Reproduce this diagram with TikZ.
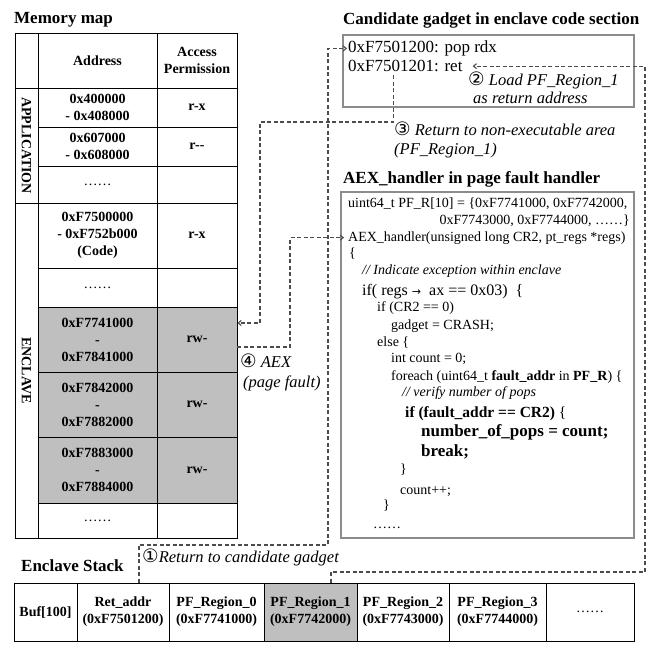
\documentclass[tikz,border=0pt]{standalone}
\usepackage{fontspec}
\usepackage{graphicx}
\setmainfont{Liberation Serif}
\newfontfamily\symf{DejaVu Sans}
\usetikzlibrary{arrows.meta}
\newcommand\cnum[1]{{\symf\upshape\fontsize{18.5}{18}\selectfont #1}}
\newcommand\mcell[7]{\node[cellbox, fill=#7, minimum width={#4-#2}, minimum height={#5-#3}] (#1) at ({(#2+#4)/2},{(#3+#5)/2}) {#6};}
\begin{document}
\begin{tikzpicture}[x=1pt,y=-1pt,
  cellbox/.style={draw=black, line width=0.8pt, inner sep=0pt, align=center, font=\fontsize{14}{17}\selectfont\bfseries},
  ttl/.style={anchor=base west, inner sep=0pt, font=\fontsize{17}{20}\selectfont\bfseries},
  codeln/.style={anchor=base west, inner sep=0pt, font=\fontsize{14}{16}\selectfont},
  cmt/.style={anchor=base west, inner sep=0pt, font=\fontsize{14}{16}\selectfont\itshape},
  big/.style={anchor=base west, inner sep=0pt, font=\fontsize{17}{20}\selectfont},
  lbl/.style={anchor=base west, inner sep=0pt, font=\fontsize{16.5}{20}\selectfont\itshape},
  frame/.style={draw=gray!90, line width=1.1pt, inner sep=0pt},
  conn/.style={draw=black!70, line width=1.1pt, dash pattern=on 4pt off 2.5pt},
  arr/.style={conn, -{Straight Barb[length=3pt,width=5pt]}},
]
\useasboundingbox (0,0) rectangle (660,656);

% ---------------- Memory map ----------------
\node[ttl] (mmt) at (14,23) {Memory map};
\mcell{h0}{15}{33}{38}{88}{}{white}
\mcell{h1}{38}{33}{157}{88}{Address}{white}
\mcell{h2}{157}{33}{237}{88}{Access\\Permission}{white}
\mcell{app}{15}{88}{38}{203}{\rotatebox{-90}{APPLICATION}}{white}
\mcell{a1}{38}{88}{157}{127}{0x400000\\- 0x408000}{white}
\mcell{p1}{157}{88}{237}{127}{r-x}{white}
\mcell{a2}{38}{127}{157}{166}{0x607000\\- 0x608000}{white}
\mcell{p2}{157}{127}{237}{166}{r-{}-}{white}
\mcell{a3}{38}{166}{157}{203}{\mdseries……}{white}
\mcell{p3}{157}{166}{237}{203}{}{white}
\mcell{enc}{15}{203}{38}{538}{\rotatebox{-90}{ENCLAVE}}{white}
\mcell{a4}{38}{203}{157}{268}{0xF7500000\\- 0xF752b000\\(Code)}{white}
\mcell{p4}{157}{203}{237}{268}{r-x}{white}
\mcell{a5}{38}{268}{157}{307}{\mdseries……}{white}
\mcell{p5}{157}{268}{237}{307}{}{white}
\mcell{a6}{38}{307}{157}{372}{0xF7741000\\-\\0xF7841000}{gray!50}
\mcell{p6}{157}{307}{237}{372}{rw-}{gray!50}
\mcell{a7}{38}{372}{157}{437}{0xF7842000\\-\\0xF7882000}{gray!50}
\mcell{p7}{157}{372}{237}{437}{rw-}{gray!50}
\mcell{a8}{38}{437}{157}{503}{0xF7883000\\-\\0xF7884000}{gray!50}
\mcell{p8}{157}{437}{237}{503}{rw-}{gray!50}
\mcell{a9}{38}{503}{157}{538}{\mdseries……}{white}
\mcell{p9}{157}{503}{237}{538}{}{white}

% ---------------- Candidate gadget ----------------
\node[ttl] (gt) at (343,24) {Candidate gadget in enclave code section};
\node[frame, minimum width=291, minimum height=72] (gbox) at (488.5,71) {};
\node[big] (g1) at (348,52.5) {0xF7501200: pop rdx};
\node[big] (g2) at (348,71.7) {0xF7501201: ret};
\node[lbl] (l2a) at (468,85) {\cnum{②} Load PF\_Region\_1};
\node[lbl] (l2b) at (473,103.5) {as return address};
\node[lbl] (l3a) at (394,135) {\cnum{③} Return to non-executable area};
\node[lbl] (l3b) at (394,154) {(PF\_Region\_1)};

% ---------------- AEX handler ----------------
\node[ttl] (at) at (343,183) {AEX\_handler in page fault handler};
\node[frame, minimum width=293, minimum height=346] (abox) at (487.5,365) {};
\node[codeln] (c1) at (348,207.5) {uint64\_t PF\_R[10] = \{0xF7741000, 0xF7742000,};
\node[codeln, anchor=base east] (c2) at (630,224.3) {0xF7743000, 0xF7744000, ……\}};
\node[codeln] (c3) at (348,241) {AEX\_handler(unsigned long CR2, pt\_regs *regs)};
\node[codeln] (c4) at (349,257) {\{};
\node[cmt] (c5) at (362,274) {// Indicate exception within enclave};
\node[codeln, font=\fontsize{16}{18}\selectfont] (c6) at (362,295) {if( regs {\symf\fontsize{11}{11}\selectfont →}\ \ ax == 0x03)\ \ \{};
\node[codeln] (c7) at (377,311) {if (CR2 == 0)};
\node[codeln] (c8) at (391,329) {gadget = CRASH;};
\node[codeln] (c9) at (377,346) {else \{};
\node[codeln] (c10) at (391,362.7) {int count = 0;};
\node[codeln] (c11) at (391,380) {foreach (uint64\_t \textbf{fault\_addr} in \textbf{PF\_R}) \{};
\node[cmt] (c12) at (402,396) {// verify number of pops};
\node[codeln, font=\fontsize{15.5}{18}\selectfont\bfseries] (c13) at (405,417) {if (fault\_addr == CR2) {\mdseries\{}};
\node[codeln, font=\fontsize{17}{20}\selectfont\bfseries] (c14) at (421,436.7) {number\_of\_pops = count;};
\node[codeln, font=\fontsize{17}{20}\selectfont\bfseries] (c15) at (421,456) {break;};
\node[codeln] (c16) at (400,473) {\}};
\node[codeln] (c17) at (400,494) {count++;};
\node[codeln] (c18) at (383,509) {\}};
\node[codeln] (c19) at (373,528) {……};

% ---------------- Enclave stack ----------------
\node[ttl] (st) at (21,571) {Enclave Stack};
\mcell{s0}{14}{583}{77}{641}{Buf[100]}{white}
\mcell{s1}{77}{583}{169}{641}{Ret\_addr\\(0xF7501200)}{white}
\mcell{s2}{169}{583}{264}{641}{PF\_Region\_0\\(0xF7741000)}{white}
\mcell{s3}{264}{583}{357}{641}{PF\_Region\_1\\(0xF7742000)}{gray!50}
\mcell{s4}{357}{583}{449}{641}{PF\_Region\_2\\(0xF7743000)}{white}
\mcell{s5}{449}{583}{546}{641}{PF\_Region\_3\\(0xF7744000)}{white}
\mcell{s6}{546}{583}{634}{641}{\mdseries……}{white}

% ---------------- Labels ----------------
\node[lbl] (l1) at (142,562) {\cnum{①}Return to candidate gadget};
\node[lbl] (l4a) at (240,367) {\cnum{④} AEX};
\node[lbl] (l4b) at (243,387) {(page fault)};

% ---------------- Connectors ----------------
\coordinate (k1) at (328,545);
\coordinate (k2) at (645,572);
\coordinate (k3) at (260,122);
\coordinate (k4) at (290,300);
\draw[arr] ([xshift=16pt]s1.north) |- (k1) |- ([xshift=-1pt]g1.west);
\draw[arr] ([xshift=20.5pt]s3.north) |- (k2) |- ([xshift=10pt]g2.east);
\draw[arr] ([xshift=-12pt,yshift=-3pt]g2.south) |- (k3) |- ([yshift=16.5pt]p6.east);
\draw[arr] ([yshift=-7.5pt]p6.east) -| (k4 |- c3.west) -- ([xshift=-4pt]c3.west);
\end{tikzpicture}
\end{document}
